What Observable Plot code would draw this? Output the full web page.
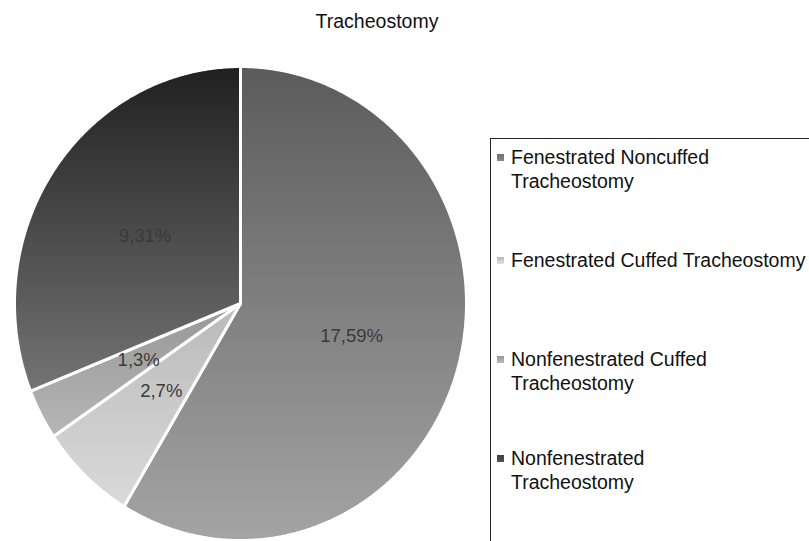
<!DOCTYPE html>
<html>
<head>
<meta charset="utf-8">
<script src="https://cdn.jsdelivr.net/npm/d3@7"></script>
<script src="https://cdn.jsdelivr.net/npm/@observablehq/plot@0.6"></script>
<style>
  html, body { margin: 0; padding: 0; background: #fff; }
  #wrap { position: relative; width: 809px; height: 541px; overflow: hidden; font-family: "Liberation Sans", Arial, sans-serif; }
  #title { position: absolute; left: 0; width: 754px; top: 10px; text-align: center; font-size: 19.5px; color: #111; }
  #legend { position: absolute; left: 490px; top: 138px; width: 340px; height: 420px; border: 1px solid #222; box-sizing: border-box; }
  .item { position: absolute; left: 20px; font-size: 19.5px; line-height: 24px; color: #111; width: 215px; }
  .item.nowrap { white-space: nowrap; width: auto; }
  .mark { position: absolute; left: 6px; width: 7px; height: 7px; }
  #chart { position: absolute; left: 0; top: 0; }
</style>
</head>
<body>
<div id="wrap">
  <div id="chart"></div>
  <div id="title"></div>
  <div id="legend"></div>
</div>
<script>
// ---- data ----
const title = "Tracheostomy";
const categories = [
  "Fenestrated Noncuffed Tracheostomy",
  "Fenestrated Cuffed Tracheostomy",
  "Nonfenestrated Cuffed Tracheostomy",
  "Nonfenestrated Tracheostomy"
];
const counts = [17, 2, 1, 9];
const percents = [59, 7, 3, 31];

// ---- styles (top -> bottom gradient per slice) ----
const gradTop = ["#5b5b5b", "#bababa", "#979797", "#202020"];
const gradBottom = ["#a4a4a4", "#dadada", "#b6b6b6", "#747474"];
const legendColor = ["#7a7a7a", "#cbcbcb", "#a8a8a8", "#4a4a4a"];

const slices = categories.map((name, i) => ({name, count: counts[i], pct: percents[i], i}));
const arcs = d3.pie().sort(null).value(d => d.count).startAngle(0).endAngle(2 * Math.PI)(slices);

// polygon points in unit-circle data space
const poly = [];
arcs.forEach(a => {
  const id = a.data.i;
  poly.push({id, x: 0, y: 0});
  const n = Math.max(4, Math.ceil((a.endAngle - a.startAngle) / (Math.PI / 360)));
  for (let k = 0; k <= n; k++) {
    const t = a.startAngle + (a.endAngle - a.startAngle) * k / n;
    poly.push({id, x: Math.sin(t), y: Math.cos(t)});
  }
  poly.push({id, x: 0, y: 0});
});

const labelR = 0.51;
const labels = arcs.map(a => {
  const m = (a.startAngle + a.endAngle) / 2;
  return {x: labelR * Math.sin(m), y: labelR * Math.cos(m), text: `${a.data.count},${a.data.pct}%`};
});

const plot = Plot.plot({
  width: 809,
  height: 541,
  margin: 0,
  x: {domain: [-1, 1], range: [14, 466], axis: null},
  y: {domain: [-1, 1], range: [540, 66], axis: null},
  color: {type: "identity"},
  marks: [
    Plot.line(poly, {x: "x", y: "y", z: "id", fill: d => `url(#sliceGrad${d.id})`, stroke: "white", strokeWidth: 3, strokeLinejoin: "miter", curve: "linear"}),
    Plot.text(labels, {x: "x", y: "y", text: "text", fill: "#3a3a3a", fontSize: 18.5, fontFamily: "Liberation Sans, Arial, sans-serif"})
  ]
});

// gradient defs
const ns = "http://www.w3.org/2000/svg";
const defs = document.createElementNS(ns, "defs");
categories.forEach((c, i) => {
  const g = document.createElementNS(ns, "linearGradient");
  g.setAttribute("id", `sliceGrad${i}`);
  g.setAttribute("x1", "0"); g.setAttribute("y1", "0");
  g.setAttribute("x2", "0"); g.setAttribute("y2", "1");
  [[0, gradTop[i]], [1, gradBottom[i]]].forEach(([o, col]) => {
    const s = document.createElementNS(ns, "stop");
    s.setAttribute("offset", o);
    s.setAttribute("stop-color", col);
    g.appendChild(s);
  });
  defs.appendChild(g);
});
plot.insertBefore(defs, plot.firstChild);
document.getElementById("chart").appendChild(plot);

document.getElementById("title").textContent = title;

// legend
const itemTops = [6, 109, 208, 307];
const legend = document.getElementById("legend");
categories.forEach((c, i) => {
  const it = document.createElement("div");
  it.className = "item" + (i === 1 ? " nowrap" : "");
  it.style.top = itemTops[i] + "px";
  it.textContent = c;
  legend.appendChild(it);
  const mk = document.createElement("div");
  mk.className = "mark";
  mk.style.top = (itemTops[i] + 9) + "px";
  mk.style.background = `linear-gradient(${d3.color(legendColor[i]).darker(0.3)}, ${d3.color(legendColor[i]).brighter(0.3)})`;
  legend.appendChild(mk);
});
</script>
</body>
</html>
